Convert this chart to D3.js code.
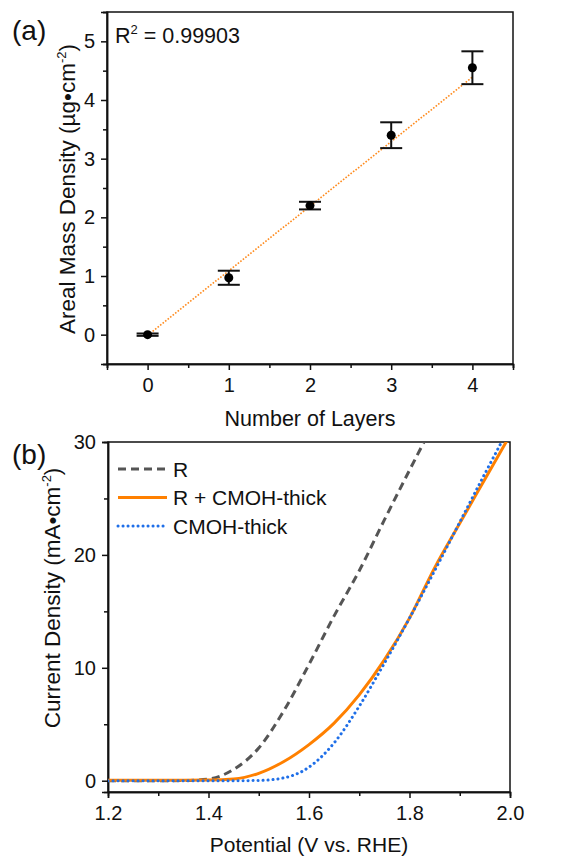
<!DOCTYPE html>
<html>
<head>
<meta charset="utf-8">
<script src="https://cdn.jsdelivr.net/npm/d3@7"></script>
<style>
  body { margin: 0; background: #fff; }
  text { font-family: "Liberation Sans", Arial, sans-serif; fill: #111; }
  .domain, .tick line { stroke: #111; stroke-width: 1.5; }
</style>
</head>
<body>
<div id="chart"></div>
<script>
// (a) areal mass density vs layers
var layers = [0, 1, 2, 3, 4];
var massDensity = [0, 0.97, 2.2, 3.4, 4.55];
var massErr = [0.02, 0.12, 0.065, 0.22, 0.28];
var fitSlope = 1.1, fitIntercept = -0.01;
var r2Label = "0.99903";

// (b) polarization curves
var potential = [1.20, 1.25, 1.30, 1.35, 1.40, 1.45, 1.50, 1.55, 1.60, 1.65, 1.70, 1.75, 1.80, 1.85, 1.90, 1.95, 2.00];
var curR     = [0, 0, 0, 0.02, 0.15, 1.0, 2.9, 6.2, 10.3, 14.6, 18.6, 23.1, 27.5, 31.8, 36, 40, 44];
var curRCmoh = [0.05, 0.05, 0.05, 0.05, 0.06, 0.15, 0.65, 1.7, 3.2, 5.1, 7.6, 10.7, 14.4, 18.85, 22.8, 26.7, 30.6];
var curCmoh  = [0, 0, 0, 0, 0, 0, 0.02, 0.25, 1.2, 3.35, 6.6, 10.4, 14.4, 18.6, 22.9, 27.2, 31.4];
var seriesNames = ["R", "R + CMOH-thick", "CMOH-thick"];

var svg = d3.select("#chart").append("svg")
  .attr("width", 565).attr("height", 860);

// ---------- panel a ----------
var xa = d3.scaleLinear().domain([-0.5, 4.5]).range([107, 513]);
var ya = d3.scaleLinear().domain([-0.5, 5.5]).range([364, 12]);

var ga = svg.append("g");
ga.append("rect").attr("x", 107).attr("y", 12).attr("width", 406).attr("height", 352)
  .attr("fill", "none").attr("stroke", "#111").attr("stroke-width", 1.5);

ga.append("g").attr("transform", "translate(0,364)")
  .call(d3.axisBottom(xa).tickValues(layers).tickSize(6).tickPadding(8).tickFormat(d3.format("d")));
ga.append("g").attr("transform", "translate(0,364)")
  .call(d3.axisBottom(xa).tickValues([-0.5, 0.5, 1.5, 2.5, 3.5, 4.5]).tickSize(4).tickFormat(""));
ga.append("g").attr("transform", "translate(107,0)")
  .call(d3.axisLeft(ya).tickValues([0, 1, 2, 3, 4, 5]).tickSize(6).tickPadding(6).tickFormat(d3.format("d")));
ga.append("g").attr("transform", "translate(107,0)")
  .call(d3.axisLeft(ya).tickValues([-0.5, 0.5, 1.5, 2.5, 3.5, 4.5, 5.5]).tickSize(4).tickFormat(""));
ga.selectAll(".tick text").style("font-size", "20px");

// fit line
ga.append("line")
  .attr("x1", xa(0)).attr("y1", ya(fitIntercept))
  .attr("x2", xa(4)).attr("y2", ya(fitIntercept + fitSlope * 4))
  .attr("stroke", "#ff8a1c").attr("stroke-width", 1.6).attr("stroke-dasharray", "1.6,1.6");

// error bars
var pts = layers.map(function(d, i) { return { x: d, y: massDensity[i], e: massErr[i] }; });
var eb = ga.selectAll(".eb").data(pts).enter().append("g").attr("class", "eb")
  .attr("stroke", "#111").attr("stroke-width", 2);
eb.append("line").attr("x1", function(d) { return xa(d.x); }).attr("x2", function(d) { return xa(d.x); })
  .attr("y1", function(d) { return ya(d.y - d.e); }).attr("y2", function(d) { return ya(d.y + d.e); });
eb.append("line").attr("x1", function(d) { return xa(d.x) - 11; }).attr("x2", function(d) { return xa(d.x) + 11; })
  .attr("y1", function(d) { return ya(d.y + d.e); }).attr("y2", function(d) { return ya(d.y + d.e); });
eb.append("line").attr("x1", function(d) { return xa(d.x) - 11; }).attr("x2", function(d) { return xa(d.x) + 11; })
  .attr("y1", function(d) { return ya(d.y - d.e); }).attr("y2", function(d) { return ya(d.y - d.e); });
ga.selectAll(".dot").data(pts).enter().append("circle")
  .attr("cx", function(d) { return xa(d.x); }).attr("cy", function(d) { return ya(d.y); })
  .attr("r", 4.5).attr("fill", "#000");

var r2 = ga.append("text").attr("x", 115).attr("y", 43).style("font-size", "21.5px");
r2.append("tspan").text("R");
r2.append("tspan").attr("dy", -9).style("font-size", "13px").text("2");
r2.append("tspan").attr("dy", 9).text(" = " + r2Label);

ga.append("text").attr("x", 12).attr("y", 40).style("font-size", "28px").text("(a)");
ga.append("text").attr("x", 310).attr("y", 426).attr("text-anchor", "middle")
  .style("font-size", "21.5px").text("Number of Layers");
var ta = ga.append("text").attr("transform", "translate(75,189) rotate(-90)")
  .attr("text-anchor", "middle").style("font-size", "22.5px");
ta.append("tspan").text("Areal Mass Density (\u00b5g\u2022cm");
ta.append("tspan").attr("dy", -9).style("font-size", "13px").text("-2");
ta.append("tspan").attr("dy", 9).text(")");

// ---------- panel b ----------
var xb = d3.scaleLinear().domain([1.2, 2.0]).range([108, 510]);
var yb = d3.scaleLinear().domain([-1, 30]).range([792, 442]);

var gb = svg.append("g");
gb.append("clipPath").attr("id", "clipb").append("rect")
  .attr("x", 108).attr("y", 442).attr("width", 402).attr("height", 350);
gb.append("rect").attr("x", 108).attr("y", 442).attr("width", 402).attr("height", 350)
  .attr("fill", "none").attr("stroke", "#111").attr("stroke-width", 1.5);

gb.append("g").attr("transform", "translate(0,792)")
  .call(d3.axisBottom(xb).tickValues([1.2, 1.4, 1.6, 1.8, 2.0]).tickSize(6).tickPadding(8).tickFormat(d3.format(".1f")));
gb.append("g").attr("transform", "translate(0,792)")
  .call(d3.axisBottom(xb).tickValues([1.3, 1.5, 1.7, 1.9]).tickSize(4).tickFormat(""));
gb.append("g").attr("transform", "translate(108,0)")
  .call(d3.axisLeft(yb).tickValues([0, 10, 20, 30]).tickSize(6).tickPadding(6).tickFormat(d3.format("d")));
gb.append("g").attr("transform", "translate(108,0)")
  .call(d3.axisLeft(yb).tickValues([5, 15, 25]).tickSize(4).tickFormat(""));
gb.selectAll(".tick text").style("font-size", "20px");

var line = d3.line()
  .x(function(d) { return xb(d[0]); })
  .y(function(d) { return yb(d[1]); })
  .curve(d3.curveMonotoneX);

var styles = [
  { data: curR, color: "#555555", width: 3, dash: "8,5", cap: "butt" },
  { data: curRCmoh, color: "#ff8000", width: 3, dash: null, cap: "butt" },
  { data: curCmoh, color: "#1f6fe8", width: 3, dash: "0.1,4.9", cap: "round" }
];
var plotArea = gb.append("g").attr("clip-path", "url(#clipb)");
styles.forEach(function(s) {
  plotArea.append("path")
    .datum(potential.map(function(v, i) { return [v, s.data[i]]; }))
    .attr("d", line).attr("fill", "none")
    .attr("stroke", s.color).attr("stroke-width", s.width)
    .attr("stroke-dasharray", s.dash).attr("stroke-linecap", s.cap);
});

// legend
var leg = gb.selectAll(".leg").data(styles).enter().append("g")
  .attr("transform", function(d, i) { return "translate(118," + (469 + i * 28.5) + ")"; });
leg.append("line").attr("x1", 0).attr("x2", 49).attr("y1", 0).attr("y2", 0)
  .attr("stroke", function(d) { return d.color; }).attr("stroke-width", function(d) { return d.width; })
  .attr("stroke-dasharray", function(d) { return d.dash; }).attr("stroke-linecap", function(d) { return d.cap; });
leg.append("text").attr("x", 55).attr("y", 7.5).style("font-size", "21px")
  .text(function(d, i) { return seriesNames[i]; });

gb.append("text").attr("x", 12).attr("y", 464).style("font-size", "28px").text("(b)");
gb.append("text").attr("x", 309).attr("y", 852).attr("text-anchor", "middle")
  .style("font-size", "21px").text("Potential (V vs. RHE)");
var tb = gb.append("text").attr("transform", "translate(60,598) rotate(-90)")
  .attr("text-anchor", "middle").style("font-size", "22.5px");
tb.append("tspan").text("Current Density (mA\u2022cm");
tb.append("tspan").attr("dy", -9).style("font-size", "13px").text("-2");
tb.append("tspan").attr("dy", 9).text(")");
</script>
</body>
</html>
